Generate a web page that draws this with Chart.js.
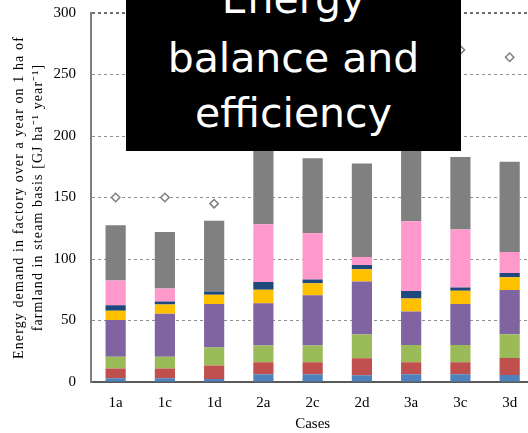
<!DOCTYPE html>
<html>
<head>
<meta charset="utf-8">
<script src="https://cdn.jsdelivr.net/npm/chart.js@4"></script>
<style>
  html, body { margin: 0; padding: 0; background: #fff; overflow: hidden; width: 528px; height: 433px; }
  #wrap { position: relative; width: 540px; height: 433px; }
  #c { display: block; width: 540px; height: 433px; }
  #box { position: absolute; left: 126px; top: 0; width: 335px; height: 151px; background: #000; overflow: hidden; }
  .ln { position: absolute; left: 0; width: 100%; text-align: center; color: #fff;
        font-family: "DejaVu Sans", sans-serif; font-size: 41px; line-height: 55px; white-space: nowrap; }
</style>
</head>
<body>
<div id="wrap">
  <canvas id="c" width="540" height="433"></canvas>
  <div id="box">
    <div class="ln" style="top:-27.7px">Energy</div>
    <div class="ln" style="top:30.8px">balance and</div>
    <div class="ln" style="top:85.8px">efficiency</div>
  </div>
</div>
<script>
const categories = ['1a','1c','1d','2a','2c','2d','3a','3c','3d'];
const seriesBlue   = [3, 3, 2.5, 6.3, 6.3, 5.4, 6.3, 6.3, 5.7];
const seriesRed    = [8, 8, 11, 9.7, 9.7, 14, 9.7, 9.7, 13.8];
const seriesGreen  = [9.5, 9.5, 14.5, 13.6, 13.6, 19.3, 14, 14, 19.3];
const seriesPurple = [30, 35, 35.5, 34.4, 41, 43, 27.3, 33.4, 36];
const seriesYellow = [7.5, 7.5, 7.5, 11, 9.6, 10, 10.6, 10.8, 10.3];
const seriesNavy   = [4.5, 2.5, 2.5, 6.3, 3.2, 3.5, 6, 2.7, 3.5];
const seriesPink   = [20, 10.5, 0, 47, 37.5, 6.5, 56.7, 47, 17];
const seriesGray   = [45, 46, 57.5, 75, 61, 76, 75, 59, 73.4];
const diamondValues = [150, 150, 145, 260, 255, 250, 275, 270, 264];
const yTicks = [0, 50, 100, 150, 200, 250, 300];

const serif = "'Liberation Serif', 'Times New Roman', serif";
const barCommon = { type: 'bar', stack: 'energy', barPercentage: 0.41, categoryPercentage: 1, borderWidth: 0, order: 2 };

// widen the letter spacing of the y-axis title only
const titleSpacing = {
  id: 'titleSpacing',
  afterLayout(chart) {
    const s = chart.scales.y;
    if (s.__wrapped) return;
    const orig = s.drawTitle;
    s.drawTitle = function () {
      const ctx = this.ctx;
      ctx.save();
      ctx.letterSpacing = '1.1px';
      orig.apply(this, arguments);
      ctx.restore();
    };
    s.__wrapped = true;
  }
};

new Chart(document.getElementById('c'), {
  data: {
    labels: categories,
    datasets: [
      { ...barCommon, label: 'S1', data: seriesBlue,   backgroundColor: '#4F81BD' },
      { ...barCommon, label: 'S2', data: seriesRed,    backgroundColor: '#C0504D' },
      { ...barCommon, label: 'S3', data: seriesGreen,  backgroundColor: '#9BBB59' },
      { ...barCommon, label: 'S4', data: seriesPurple, backgroundColor: '#8064A2' },
      { ...barCommon, label: 'S5', data: seriesYellow, backgroundColor: '#FFC000' },
      { ...barCommon, label: 'S6', data: seriesNavy,   backgroundColor: '#1F497D' },
      { ...barCommon, label: 'S7', data: seriesPink,   backgroundColor: '#FF99CC' },
      { ...barCommon, label: 'S8', data: seriesGray,   backgroundColor: '#808080' },
      { type: 'line', label: 'Efficiency', stack: 'diamonds', data: diamondValues, showLine: false,
        pointStyle: 'rectRot', pointRadius: 4.2, pointHoverRadius: 4.2,
        pointBorderColor: '#7f7f7f', pointBackgroundColor: '#fff', pointBorderWidth: 1.5, order: 1 }
    ]
  },
  plugins: [titleSpacing],
  options: {
    responsive: false,
    maintainAspectRatio: false,
    animation: false,
    events: [],
    layout: { padding: { top: 13, left: 0, right: 0, bottom: 0 } },
    plugins: { legend: { display: false }, tooltip: { enabled: false }, title: { display: false } },
    scales: {
      x: {
        stacked: true,
        grid: { display: false, drawTicks: false },
        border: { display: true, color: '#595959', width: 2 },
        ticks: { color: '#000', font: { family: serif, size: 15 }, padding: 12, maxRotation: 0, autoSkip: false },
        title: { display: true, text: 'Cases', color: '#000', font: { family: serif, size: 15 }, padding: { top: 0, bottom: 0 } },
        afterFit: (s) => { s.height = 51; s.paddingLeft = 0; s.paddingRight = 0; }
      },
      y: {
        stacked: true,
        min: 0, max: 300,
        afterBuildTicks: (s) => { s.ticks = yTicks.map(v => ({ value: v })); },
        grid: {
          drawTicks: false,
          color: (ctx) => ctx.tick && ctx.tick.value === 300 ? '#6e6e6e' : '#8f8f8f',
          lineWidth: (ctx) => ctx.tick && ctx.tick.value === 300 ? 2 : 1
        },
        border: { display: true, color: '#7f7f7f', width: 2, dash: [3, 3] },
        ticks: { color: '#000', font: { family: serif, size: 15 }, padding: 15 },
        title: {
          display: true,
          text: ['Energy demand in factory over a year on 1 ha of', 'farmland in steam basis [GJ ha\u207B\u00B9 year\u207B\u00B9]'],
          color: '#000', font: { family: serif, size: 14, lineHeight: 1.35 }, padding: { top: 10, bottom: 0 }
        },
        afterFit: (s) => { s.width = 91; s.paddingTop = 0; s.paddingBottom = 0; }
      }
    }
  }
});
</script>
</body>
</html>
